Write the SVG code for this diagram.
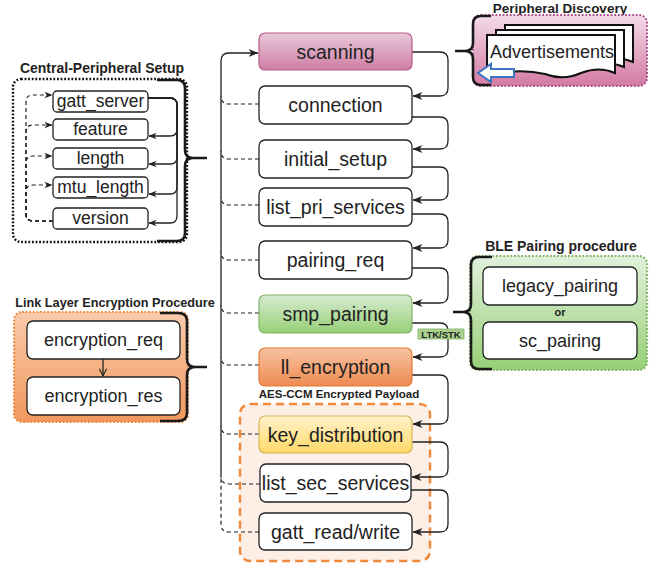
<svg xmlns="http://www.w3.org/2000/svg" width="656" height="564" viewBox="0 0 656 564">
<defs>
<linearGradient id="gPink" x1="0" y1="0" x2="0" y2="1"><stop offset="0" stop-color="#f3dbe8"/><stop offset="1" stop-color="#d47aa3"/></linearGradient>
<linearGradient id="gPinkN" x1="0" y1="0" x2="0" y2="1"><stop offset="0" stop-color="#e9c7d9"/><stop offset="1" stop-color="#cf7ea4"/></linearGradient>
<linearGradient id="gGreen" x1="0" y1="0" x2="0" y2="1"><stop offset="0" stop-color="#e2f0dc"/><stop offset="1" stop-color="#97d077"/></linearGradient>
<linearGradient id="gGreenN" x1="0" y1="0" x2="0" y2="1"><stop offset="0" stop-color="#d7ead2"/><stop offset="1" stop-color="#97d077"/></linearGradient>
<linearGradient id="gOrange" x1="0" y1="0" x2="0" y2="1"><stop offset="0" stop-color="#f9cbab"/><stop offset="1" stop-color="#f0985c"/></linearGradient>
<linearGradient id="gOrangeN" x1="0" y1="0" x2="0" y2="1"><stop offset="0" stop-color="#f8c3a2"/><stop offset="1" stop-color="#ee8a50"/></linearGradient>
<linearGradient id="gYellow" x1="0" y1="0" x2="0" y2="1"><stop offset="0" stop-color="#fff2cc"/><stop offset="1" stop-color="#ffd966"/></linearGradient>
<marker id="ah" viewBox="0 0 10 10" refX="9.5" refY="5" markerWidth="10" markerHeight="10" markerUnits="userSpaceOnUse" orient="auto"><path d="M0,1 L10,5 L0,9 L3,5 z" fill="#222"/></marker>
<marker id="ahs" viewBox="0 0 10 10" refX="9.5" refY="5" markerWidth="8" markerHeight="8" markerUnits="userSpaceOnUse" orient="auto"><path d="M0,1 L10,5 L0,9 L3,5 z" fill="#222"/></marker>
<marker id="av" viewBox="0 0 10 10" refX="9" refY="5" markerWidth="9" markerHeight="9" markerUnits="userSpaceOnUse" orient="auto"><path d="M1,1 L9,5 L1,9" fill="none" stroke="#222" stroke-width="1.2"/></marker>
</defs>
<style>
text{font-family:"Liberation Sans",Arial,sans-serif;fill:#222;text-anchor:middle}
.t{font-weight:bold}
.n{font-size:19.5px}
.s{font-size:17.5px}
.m{font-size:18px}
.box{fill:#fff;stroke:#222;stroke-width:1.3}
.con{fill:none;stroke:#222;stroke-width:1.3}
.dash{fill:none;stroke:#222;stroke-width:1.2;stroke-dasharray:4 3}
.brace{fill:none;stroke:#1a1a1a;stroke-width:2.6}
</style>

<!-- group containers -->
<g id="central-peripheral-setup">
<text class="t" x="102" y="73" font-size="14">Central-Peripheral Setup</text>
<rect x="13" y="79" width="174" height="163" rx="8" fill="#fff" stroke="#111" stroke-width="2.4" stroke-dasharray="1.8 1.8"/>
<path class="brace" d="M157 80 H177 Q185 80 185 88 V150 Q185 158 193 158 H207 M193 158 Q185 158 185 166 V233 Q185 241 177 241 H157"/>
</g>
<g id="link-layer-encryption-procedure">
<text class="t" x="115" y="307" font-size="12.7">Link Layer Encryption Procedure</text>
<rect x="14" y="312" width="174" height="110" rx="8" fill="url(#gOrange)" stroke="#ef8a3c" stroke-width="2.2" stroke-dasharray="1.8 1.8"/>
<path class="brace" d="M160 313 H178 Q187 313 187 321 V359 Q187 367 195 367 H207 M195 367 Q187 367 187 375 V413 Q187 421 178 421 H160"/>
</g>
<g id="peripheral-discovery">
<text class="t" x="560" y="12.5" font-size="13.5">Peripheral Discovery</text>
<rect x="473" y="15" width="174" height="71" rx="8" fill="url(#gPink)" stroke="#a8508a" stroke-width="2" stroke-dasharray="1.8 1.8"/>
<path class="brace" d="M491 16 H481 Q473 16 473 24 V43 Q473 51 465 51 H455 M465 51 Q473 51 473 59 V77 Q473 85 481 85 H491"/>
</g>
<g id="ble-pairing-procedure">
<text class="t" x="561" y="251" font-size="14">BLE Pairing procedure</text>
<rect x="470" y="256" width="177" height="114" rx="8" fill="url(#gGreen)" stroke="#82b366" stroke-width="2.2" stroke-dasharray="1.8 1.8"/>
<path class="brace" d="M492 257 H479 Q471 257 471 265 V304 Q471 312 463 312 H453 M463 312 Q471 312 471 320 V361 Q471 369 479 369 H492"/>
</g>
<g id="aes-ccm-encrypted-payload">
<text class="t" x="339" y="398" font-size="11.5">AES-CCM Encrypted Payload</text>
<rect x="240" y="404" width="190" height="157" rx="10" fill="#fdeee6" stroke="#ef8a3c" stroke-width="2.5" stroke-dasharray="8 5"/>
</g>

<!-- connectors -->
<g id="connectors">
<!-- main right chain -->
<path class="con" marker-end="url(#ah)" d="M412 52 H440 Q448 52 448 60 V88 Q448 96 440 96 H413"/>
<path class="con" marker-end="url(#ah)" d="M412 117 H440 Q448 117 448 125 V141 Q448 149 440 149 H413"/>
<path class="con" marker-end="url(#ah)" d="M412 167 H440 Q448 167 448 175 V192 Q448 200 440 200 H413"/>
<path class="con" marker-end="url(#ah)" d="M412 214 H440 Q448 214 448 222 V240 Q448 248 440 248 H413"/>
<path class="con" marker-end="url(#ah)" d="M412 268 H440 Q448 268 448 276 V295 Q448 303 440 303 H413"/>
<path class="con" marker-end="url(#ah)" d="M412 323 H440 Q448 323 448 331 V349 Q448 357 440 357 H413"/>
<path class="con" marker-end="url(#ah)" d="M412 375 H440 Q448 375 448 383 V416 Q448 424 440 424 H413"/>
<path class="con" marker-end="url(#ah)" d="M412 442 H440 Q448 442 448 450 V469 Q448 477 440 477 H412"/>
<path class="con" marker-end="url(#ah)" d="M411 490 H440 Q448 490 448 498 V524 Q448 532 440 532 H413"/>
<!-- main left trunk (back to scanning) -->
<path class="con" marker-end="url(#ah)" d="M221 476 V61 Q221 53 229 53 H258"/>
<path class="dash" d="M259 104 H229 Q221 104 221 96"/>
<path class="dash" d="M259 159 H229 Q221 159 221 151"/>
<path class="dash" d="M259 205 H229 Q221 205 221 197"/>
<path class="dash" d="M259 260 H229 Q221 260 221 252"/>
<path class="dash" d="M259 313 H229 Q221 313 221 305"/>
<path class="dash" d="M259 365 H229 Q221 365 221 357"/>
<path class="dash" d="M259 434 H229 Q221 434 221 426"/>
<path class="dash" d="M260 484 H229 Q221 484 221 476"/>
<path class="dash" d="M259 532 H229 Q221 532 221 524 V476"/>
<!-- central-peripheral right chain -->
<path class="con" marker-end="url(#ahs)" d="M148 98 H170 Q177 98 177 105 V129 Q177 136 170 136 H149"/>
<path class="con" marker-end="url(#ahs)" d="M148 98 H170 Q177 98 177 105 V157 Q177 164 170 164 H149"/>
<path class="con" marker-end="url(#ahs)" d="M148 98 H170 Q177 98 177 105 V187 Q177 194 170 194 H149"/>
<path class="con" marker-end="url(#ahs)" d="M148 98 H170 Q177 98 177 105 V216 Q177 223 170 223 H149"/>
<!-- central-peripheral left dashed -->
<path class="dash" marker-end="url(#ahs)" d="M53 221 H33 Q26 221 26 214 V102 Q26 95 33 95 H52"/>
<path class="dash" marker-end="url(#ahs)" d="M53 221 H33 Q26 221 26 214 V132 Q26 125 33 125 H52"/>
<path class="dash" marker-end="url(#ahs)" d="M53 221 H33 Q26 221 26 214 V163 Q26 156 33 156 H52"/>
<path class="dash" marker-end="url(#ahs)" d="M53 221 H33 Q26 221 26 214 V192 Q26 185 33 185 H52"/>
<!-- encryption req -> res -->
<path class="con" marker-end="url(#av)" d="M103 359 V376"/>
</g>

<!-- main column nodes -->
<g id="scanning"><rect x="259" y="33" width="153" height="37" rx="6" fill="url(#gPinkN)" stroke="#b85c8a" stroke-width="1.2"/><text class="n" x="335.5" y="58.5">scanning</text></g>
<g id="connection"><rect class="box" x="259" y="86" width="153" height="38" rx="6"/><text class="n" x="335.5" y="112">connection</text></g>
<g id="initial_setup"><rect class="box" x="259" y="140" width="153" height="38" rx="6"/><text class="n" x="335.5" y="166">initial_setup</text></g>
<g id="list_pri_services"><rect class="box" x="259" y="188" width="153" height="38" rx="6"/><text class="n" x="335.5" y="214">list_pri_services</text></g>
<g id="pairing_req"><rect class="box" x="259" y="241" width="153" height="38" rx="6"/><text class="n" x="335.5" y="267">pairing_req</text></g>
<g id="smp_pairing"><rect x="259" y="295" width="153" height="38" rx="6" fill="url(#gGreenN)" stroke="#82b366" stroke-width="1.2"/><text class="n" x="335.5" y="321">smp_pairing</text></g>
<g id="ll_encryption"><rect x="259" y="348" width="153" height="38" rx="6" fill="url(#gOrangeN)" stroke="#e07b39" stroke-width="1.2"/><text class="n" x="335.5" y="374">ll_encryption</text></g>
<g id="key_distribution"><rect x="259" y="416" width="153" height="37" rx="6" fill="url(#gYellow)" stroke="#d6b656" stroke-width="1.2"/><text class="n" x="335.5" y="441.5">key_distribution</text></g>
<g id="list_sec_services"><rect class="box" x="260" y="464" width="151" height="38" rx="6"/><text class="n" x="335.5" y="490">list_sec_services</text></g>
<g id="gatt_read_write"><rect class="box" x="259" y="513" width="153" height="37" rx="6"/><text class="n" x="335.5" y="538.5">gatt_read/write</text></g>

<!-- central-peripheral nodes -->
<g id="gatt_server"><rect class="box" x="53" y="91" width="95" height="21" rx="4"/><text class="s" x="100.5" y="107">gatt_server</text></g>
<g id="feature"><rect class="box" x="53" y="119" width="95" height="21" rx="4"/><text class="s" x="100.5" y="135">feature</text></g>
<g id="length"><rect class="box" x="53" y="148" width="95" height="21" rx="4"/><text class="s" x="100.5" y="164">length</text></g>
<g id="mtu_length"><rect class="box" x="53" y="177" width="95" height="21" rx="4"/><text class="s" x="100.5" y="193">mtu_length</text></g>
<g id="version"><rect class="box" x="53" y="208" width="95" height="21" rx="4"/><text class="s" x="100.5" y="224">version</text></g>

<!-- link layer nodes -->
<g id="encryption_req"><rect class="box" x="27" y="321" width="153" height="38" rx="6"/><text class="m" x="103.5" y="346">encryption_req</text></g>
<g id="encryption_res"><rect class="box" x="27" y="377" width="153" height="38" rx="6"/><text class="m" x="103.5" y="402">encryption_res</text></g>

<!-- BLE pairing nodes -->
<g id="legacy_pairing"><rect class="box" x="483" y="267" width="154" height="38" rx="6"/><text class="m" x="560" y="292">legacy_pairing</text></g>
<g id="or-label"><text class="t" x="560" y="316" font-size="11">or</text></g>
<g id="sc_pairing"><rect class="box" x="483" y="322" width="154" height="37" rx="6"/><text class="m" x="560" y="347">sc_pairing</text></g>

<!-- advertisements -->
<g id="advertisements">
<path d="M505 25 H633 V62 Q617 55 599 62 Q583 70 567 63 L505 62 Z" fill="#fff" stroke="#111" stroke-width="2"/>
<path d="M496 30 H624 V67 Q608 60 590 67 Q574 75 558 68 L496 67 Z" fill="#fff" stroke="#111" stroke-width="2"/>
<path d="M487 35 H615 V73 Q599 66 581 73 Q563 81 545 74 Q520 68 487 75 Z" fill="#fff" stroke="#111" stroke-width="2"/>
<text class="m" x="552" y="58">Advertisements</text>
<path d="M478 73 L491 64 V69 H514 V77 H491 V82 Z" fill="#fff" stroke="#3a75c4" stroke-width="2" stroke-linejoin="miter"/>
</g>

<!-- LTK/STK label -->
<g id="ltk-stk-label"><rect x="418" y="329" width="46" height="10" fill="#a9d18e" stroke="#82b366" stroke-width="0.8"/><text class="t" x="441" y="337.5" font-size="9.5">LTK/STK</text></g>
</svg>
